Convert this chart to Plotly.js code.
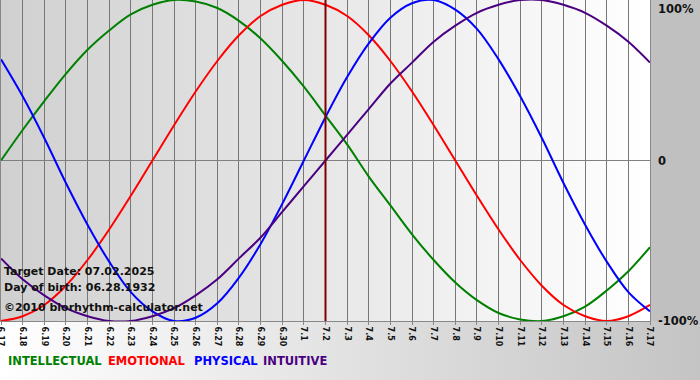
<!DOCTYPE html>
<html><head><meta charset="utf-8">
<script src="https://cdn.plot.ly/plotly-3.0.1.min.js"></script>
<style>
html,body{margin:0;padding:0;background:#fff;}
#chart{width:700px;height:380px;
background:
 linear-gradient(to right,#d0d0d0,#ffffff) 0 0/650px 321px no-repeat,
 linear-gradient(#c0c0c0,#c0c0c0) 650px 0/50px 321px no-repeat,
 linear-gradient(to right,#ffffff,#c4c4c4) 0 321px/700px 59px no-repeat;
}
</style></head><body><div id="chart"></div>
<script>
const dayLabels = ["6.17","6.18","6.19","6.20","6.21","6.22","6.23","6.24","6.25","6.26","6.27","6.28","6.29","6.30",
  "7.1","7.2","7.3","7.4","7.5","7.6","7.7","7.8","7.9","7.10","7.11","7.12","7.13","7.14","7.15","7.16","7.17"];
const intellectual = [0,0.19,0.37,0.54,0.69,0.81,0.91,0.97,1.00,0.99,0.95,0.87,0.76,0.62,0.46,0.28,0.10,
  -0.10,-0.28,-0.46,-0.62,-0.76,-0.87,-0.95,-0.99,-1.00,-0.97,-0.91,-0.81,-0.69,-0.54];
const emotional = [-1.00,-0.97,-0.90,-0.78,-0.62,-0.43,-0.22,0,0.22,0.43,0.62,0.78,0.90,0.97,1.00,0.97,0.90,
  0.78,0.62,0.43,0.22,0,-0.22,-0.43,-0.62,-0.78,-0.90,-0.97,-1.00,-0.97,-0.90];
const physical = [0.63,0.40,0.14,-0.14,-0.40,-0.63,-0.82,-0.94,-1.00,-0.98,-0.89,-0.73,-0.52,-0.27,0,0.27,0.52,
  0.73,0.89,0.98,1.00,0.94,0.82,0.63,0.40,0.14,-0.14,-0.40,-0.63,-0.82,-0.94];
const intuitive = [-0.61,-0.74,-0.84,-0.92,-0.97,-1.00,-1.00,-0.97,-0.92,-0.84,-0.74,-0.61,-0.48,-0.32,-0.16,0,
  0.16,0.32,0.48,0.61,0.74,0.84,0.92,0.97,1.00,1.00,0.97,0.92,0.84,0.74,0.61];
const seriesNames = ["INTELLECTUAL","EMOTIONAL","PHYSICAL","INTUITIVE"];
const seriesColors = ["#008000","#ff0000","#0000ff","#4b0082"];
const seriesData = [intellectual, emotional, physical, intuitive];
const targetDay = "7.2";
const infoLines = ["Target Date: 07.02.2025","Day of birth: 06.28.1932","©2010 biorhythm-calculator.net"];
const yTickVals = [1,0,-1];
const yTickText = ["100%","0","-100%"];

const xIdx = dayLabels.map((d,i)=>i);
const traces = seriesData.map((vals,k)=>({
  x: xIdx, y: vals, type:'scatter', mode:'lines', name: seriesNames[k],
  line:{color: seriesColors[k], width:2, shape:'spline', smoothing:1},
  hoverinfo:'skip'
}));

const W=649, H=321, L=1;
const px = v => (v - L)/W;
const py = v => (H - v)/H;
const annotations = [];
const infoY = [271, 287, 307];
infoLines.forEach((t,i)=>annotations.push({
  text:t, xref:'paper', yref:'paper', x:px(2), y:py(infoY[i]), xanchor:'left', yanchor:'middle',
  showarrow:false, font:{family:'DejaVu Sans', size:11, color:'#111', weight:'bold'}
}));
const legX = [6,106,192,261];
seriesNames.forEach((n,i)=>annotations.push({
  text:n, xref:'paper', yref:'paper', x:px(legX[i]), y:py(361), xanchor:'left', yanchor:'middle',
  showarrow:false, font:{family:'DejaVu Sans', size:11.5, color:seriesColors[i], weight:'bold'}
}));
yTickVals.forEach((v,i)=>annotations.push({
  text:yTickText[i], xref:'paper', yref:'y', x:1, y:v, xanchor:'left', yanchor: v===1?'top':'middle',
  xshift:6, showarrow:false, font:{family:'DejaVu Sans', size:11.5, color:'#111', weight:'bold'}
}));

const layout = {
  width:700, height:380,
  margin:{l:1, r:50, t:0, b:59},
  paper_bgcolor:'rgba(0,0,0,0)', plot_bgcolor:'rgba(0,0,0,0)',
  showlegend:false,
  xaxis:{range:[0,30], tickvals:xIdx, ticktext:dayLabels, tickangle:90, ticklabeloverflow:'allow',
    tickfont:{family:'DejaVu Sans', size:8, color:'#111', weight:'bold'},
    showgrid:true, gridcolor:'#777777', gridwidth:1, zeroline:false,
    ticks:'outside', ticklen:3, tickcolor:'#888',
    showline:true, linecolor:'#888', linewidth:1, mirror:true, fixedrange:true},
  yaxis:{range:[-1,1], showgrid:false, zeroline:true, zerolinecolor:'#808080', zerolinewidth:1,
    showticklabels:false, ticks:'', showline:true, linecolor:'#888', linewidth:1, mirror:true, fixedrange:true},
  shapes:[{type:'line', xref:'x', yref:'paper', x0:dayLabels.indexOf(targetDay), x1:dayLabels.indexOf(targetDay),
    y0:0, y1:1, line:{color:'#800000', width:2}, layer:'above'}],
  annotations: annotations
};
Plotly.newPlot('chart', traces, layout, {displayModeBar:false, staticPlot:true});
</script></body></html>
